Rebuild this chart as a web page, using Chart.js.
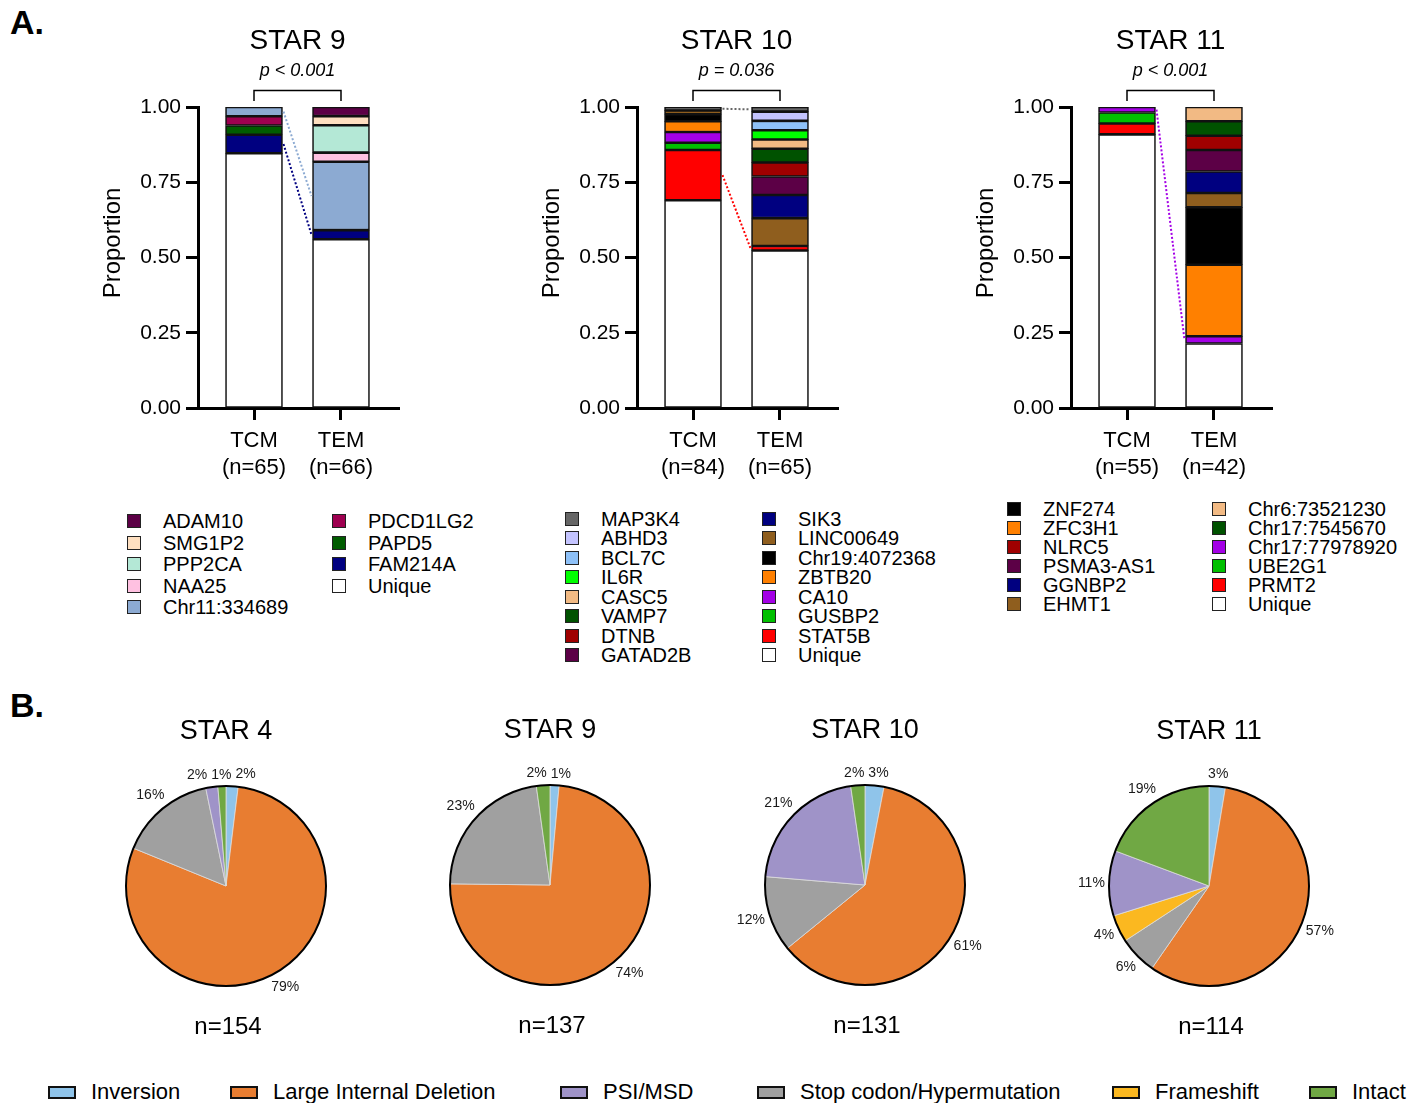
<!DOCTYPE html>
<html>
<head>
<meta charset="utf-8">
<title>Clonal proportions and provirus types</title>
<script src="https://cdn.jsdelivr.net/npm/chart.js@4.4.1/dist/chart.umd.min.js"></script>
<style>
  html, body { margin: 0; padding: 0; background: #fff; }
  body { width: 1425px; height: 1103px; position: relative; overflow: hidden;
         font-family: "Liberation Sans", Arial, Helvetica, sans-serif; color: #000; }
  canvas { position: absolute; }
  .panel { position: absolute; font-weight: bold; font-size: 34px; line-height: 34px; }
  .leg-item { position: absolute; height: 20px; font-size: 20px; line-height: 20px; white-space: nowrap; }
  .leg-item .sw { position: absolute; top: 3px; width: 14px; height: 14px; box-sizing: border-box; border: 1.5px solid #222; }
  .leg-item .tx { position: absolute; top: 0; }
  .mut-item { position: absolute; top: 1080px; height: 24px; font-size: 22px; line-height: 24px; white-space: nowrap; }
  .mut-item .sw { position: absolute; left: 0; top: 6px; width: 28px; height: 13px; box-sizing: border-box; border: 2.5px solid #111; }
  .mut-item .tx { position: absolute; left: 43px; top: 0; }
</style>
</head>
<body>
<div class="panel" style="left:10px; top:5px;">A.</div>
<div class="panel" style="left:10px; top:688px;">B.</div>

<script>
// ---------- Panel A: clone proportions in TCM vs TEM ----------
const groups = ['TCM', 'TEM'];

// STAR 9
const star9Clones = ['ADAM10', 'SMG1P2', 'PPP2CA', 'NAA25', 'Chr11:334689',
                     'PDCD1LG2', 'PAPD5', 'FAM214A', 'Unique'];
const star9Colors = ['#5c0046', '#fedfc0', '#b4e8d6', '#ffc1e1', '#8caad2',
                     '#9e0050', '#005c00', '#000080', '#ffffff'];
const star9TCM = [0, 0, 0, 0, 2, 2, 2, 4, 55];
const star9TEM = [2, 2, 6, 2, 15, 0, 0, 2, 37];
const star9N = [65, 66];
const star9Stack = star9Clones.slice().reverse();
const star9Links = ['FAM214A', 'Chr11:334689'];

// STAR 10
const star10Clones = ['MAP3K4', 'ABHD3', 'BCL7C', 'IL6R', 'CASC5', 'VAMP7', 'DTNB', 'GATAD2B',
                      'SIK3', 'LINC00649', 'Chr19:4072368', 'ZBTB20', 'CA10', 'GUSBP2', 'STAT5B', 'Unique'];
const star10Colors = ['#666666', '#c4c4ff', '#8ec1f8', '#00ff00', '#f2ba84', '#005200', '#a00000', '#5c0046',
                      '#000080', '#8f5e1e', '#000000', '#ff8000', '#a400e6', '#00c000', '#ff0000', '#ffffff'];
const star10TCM = [1, 0, 0, 0, 0, 0, 0, 0, 0, 1, 2, 3, 3, 2, 14, 58];
const star10TEM = [1, 2, 2, 2, 2, 3, 3, 4, 5, 6, 0, 0, 0, 0, 1, 34];
const star10N = [84, 65];
const star10Stack = star10Clones.slice().reverse();
const star10Links = ['MAP3K4', 'STAT5B'];

// STAR 11
const star11Clones = ['ZNF274', 'ZFC3H1', 'NLRC5', 'PSMA3-AS1', 'GGNBP2', 'EHMT1',
                      'Chr6:73521230', 'Chr17:7545670', 'Chr17:77978920', 'UBE2G1', 'PRMT2', 'Unique'];
const star11Colors = ['#000000', '#ff8000', '#a00000', '#5c0046', '#000080', '#8f5e1e',
                      '#f2ba84', '#005200', '#a400e6', '#00c000', '#ff0000', '#ffffff'];
const star11TCM = [0, 0, 0, 0, 0, 0, 0, 0, 1, 2, 2, 50];
const star11TEM = [8, 10, 2, 3, 3, 2, 2, 2, 1, 0, 0, 9];
const star11N = [55, 42];
const star11Stack = ['Unique', 'PRMT2', 'UBE2G1', 'Chr17:77978920', 'ZFC3H1', 'ZNF274',
                     'EHMT1', 'GGNBP2', 'PSMA3-AS1', 'NLRC5', 'Chr17:7545670', 'Chr6:73521230'];
const star11Links = ['Chr17:77978920'];

// ---------- Panel B: provirus classification ----------
const mutationTypes = ['Inversion', 'Large Internal Deletion', 'Stop codon/Hypermutation',
                       'Frameshift', 'PSI/MSD', 'Intact'];
const mutationColors = ['#8fc4ea', '#e87d31', '#a0a0a0', '#fbb820', '#9f93c8', '#70a844'];
const legendTypes = ['Inversion', 'Large Internal Deletion', 'PSI/MSD',
                     'Stop codon/Hypermutation', 'Frameshift', 'Intact'];
const star4Counts = [3, 122, 24, 0, 3, 2];
const star9Counts = [2, 101, 31, 0, 0, 3];
const star10Counts = [4, 80, 16, 0, 28, 3];
const star11Counts = [3, 65, 7, 5, 12, 22];

// ---------- drawing ----------
const FONT = '"Liberation Sans", Arial, Helvetica, sans-serif';
Chart.defaults.font.family = FONT;
Chart.defaults.color = '#000';

function addCanvas(left, top, w, h) {
  const c = document.createElement('canvas');
  c.width = w; c.height = h;
  c.style.left = left + 'px'; c.style.top = top + 'px';
  c.style.width = w + 'px'; c.style.height = h + 'px';
  document.body.appendChild(c);
  return c;
}

function clonalChart(cfg) {
  const canvas = addCanvas(cfg.axisX - 100, 0, 310, 490);
  const datasets = cfg.stack.map(name => {
    const i = cfg.clones.indexOf(name);
    return {
      label: name,
      data: [{ x: 1, y: cfg.tcm[i] / cfg.n[0] }, { x: 2, y: cfg.tem[i] / cfg.n[1] }],
      backgroundColor: cfg.colors[i],
      borderColor: '#111',
      borderWidth: 1.6,
      borderSkipped: false,
      barThickness: 57
    };
  });
  const tickLabels = groups.map((g, i) => [g, '(n=' + cfg.n[i] + ')']);

  const decor = {
    id: 'clonalDecor',
    afterDatasetsDraw(chart) {
      const ctx = chart.ctx;
      ctx.save();
      ctx.setLineDash([2, 2]);
      ctx.lineWidth = 2;
      cfg.links.forEach(name => {
        const di = chart.data.datasets.findIndex(d => d.label === name);
        const meta = chart.getDatasetMeta(di);
        const a = meta.data[0], b = meta.data[1];
        ctx.strokeStyle = chart.data.datasets[di].backgroundColor;
        ctx.beginPath();
        ctx.moveTo(a.x + a.width / 2 + 1, (a.y + a.base) / 2);
        ctx.lineTo(b.x - b.width / 2 - 1, (b.y + b.base) / 2);
        ctx.stroke();
      });
      ctx.restore();
    },
    afterDraw(chart) {
      const ctx = chart.ctx;
      const xs = chart.scales.x;
      const xa = xs.getPixelForValue(1), xb = xs.getPixelForValue(2);
      const mid = (xa + xb) / 2;
      ctx.save();
      ctx.fillStyle = '#000';
      ctx.textAlign = 'center';
      ctx.textBaseline = 'middle';
      ctx.font = '28px ' + FONT;
      ctx.fillText(cfg.title, mid, 41);
      ctx.font = 'italic 18px ' + FONT;
      ctx.fillText(cfg.pText, mid, 71);
      ctx.strokeStyle = '#000';
      ctx.lineWidth = 1.5;
      ctx.beginPath();
      ctx.moveTo(xa, 101); ctx.lineTo(xa, 90.5); ctx.lineTo(xb, 90.5); ctx.lineTo(xb, 101);
      ctx.stroke();
      ctx.translate(chart.chartArea.left - 85, 243);
      ctx.rotate(-Math.PI / 2);
      ctx.font = '24px ' + FONT;
      ctx.fillText('Proportion', 0, 0);
      ctx.restore();
    }
  };

  new Chart(canvas, {
    type: 'bar',
    data: { datasets },
    options: {
      responsive: false,
      animation: false,
      events: [],
      layout: { padding: { top: 107, left: 0, right: 9, bottom: 0 } },
      plugins: { legend: { display: false }, tooltip: { enabled: false } },
      scales: {
        x: {
          type: 'linear', stacked: true, bounds: 'data', offset: false,
          min: 0.3563, max: 2.6667,
          afterBuildTicks: s => { s.ticks = [{ value: 1 }, { value: 2 }]; },
          afterFit: s => { s.height = 82; },
          ticks: {
            callback: v => tickLabels[v - 1],
            font: { size: 22 }, color: '#000', padding: 8,
            maxRotation: 0, autoSkip: false
          },
          grid: { display: true, offset: false, drawOnChartArea: false, drawTicks: true,
                  tickLength: 12, tickWidth: 3, tickColor: '#000' },
          border: { display: true, width: 3, color: '#000' }
        },
        y: {
          stacked: true, min: 0, max: 1,
          afterFit: s => { s.width = 100; },
          ticks: { stepSize: 0.25, callback: v => v.toFixed(2), font: { size: 21 },
                   color: '#000', padding: 5 },
          grid: { display: true, drawOnChartArea: false, drawTicks: true,
                  tickLength: 12, tickWidth: 3, tickColor: '#000' },
          border: { display: true, width: 3, color: '#000' }
        }
      }
    },
    plugins: [decor]
  });

  // two-column legend under the chart
  const half = Math.ceil(cfg.clones.length / 2);
  cfg.clones.forEach((name, i) => {
    const col = i < half ? 0 : 1;
    const row = col === 0 ? i : i - half;
    const item = document.createElement('div');
    item.className = 'leg-item';
    item.style.left = cfg.legend.cols[col] + 'px';
    item.style.top = (cfg.legend.firstRow + row * cfg.legend.step - 10) + 'px';
    const sw = document.createElement('span');
    sw.className = 'sw';
    sw.style.left = '0px';
    sw.style.background = cfg.colors[i];
    const tx = document.createElement('span');
    tx.className = 'tx';
    tx.style.left = '36px';
    tx.textContent = name;
    item.appendChild(sw); item.appendChild(tx);
    document.body.appendChild(item);
  });
}

clonalChart({ title: 'STAR 9', pText: 'p < 0.001', axisX: 198,
  clones: star9Clones, colors: star9Colors, tcm: star9TCM, tem: star9TEM, n: star9N,
  stack: star9Stack, links: star9Links,
  legend: { cols: [127, 332], firstRow: 521, step: 21.6 } });

clonalChart({ title: 'STAR 10', pText: 'p = 0.036', axisX: 637,
  clones: star10Clones, colors: star10Colors, tcm: star10TCM, tem: star10TEM, n: star10N,
  stack: star10Stack, links: star10Links,
  legend: { cols: [565, 762], firstRow: 518.5, step: 19.5 } });

clonalChart({ title: 'STAR 11', pText: 'p < 0.001', axisX: 1071,
  clones: star11Clones, colors: star11Colors, tcm: star11TCM, tem: star11TEM, n: star11N,
  stack: star11Stack, links: star11Links,
  legend: { cols: [1007, 1212], firstRow: 509, step: 19 } });

// ---------- pies ----------
function provirusPie(cfg) {
  const canvas = addCanvas(cfg.cx - 160, cfg.cy - 180, 320, 360);
  const total = cfg.counts.reduce((s, v) => s + v, 0);

  const decor = {
    id: 'pieDecor',
    afterDatasetsDraw(chart) {
      const ctx = chart.ctx;
      const arcs = chart.getDatasetMeta(0).data;
      const cx = arcs[0].x, cy = arcs[0].y, r = arcs[0].outerRadius;
      ctx.save();
      ctx.lineWidth = 2;
      ctx.strokeStyle = '#000';
      ctx.beginPath();
      ctx.arc(cx, cy, r, 0, Math.PI * 2);
      ctx.stroke();

      ctx.font = '14px ' + FONT;
      ctx.textAlign = 'center';
      ctx.textBaseline = 'middle';
      const labels = [];
      arcs.forEach((arc, i) => {
        const v = cfg.counts[i];
        if (!v) return;
        const text = Math.round(v / total * 100) + '%';
        const w = ctx.measureText(text).width, h = 14;
        const a = (arc.startAngle + arc.endAngle) / 2;
        const c = Math.cos(a), s = Math.sin(a);
        const R = r + 4 + Math.abs(c) * w / 2 + Math.abs(s) * h / 2;
        labels.push({ text, x: cx + R * c, y: cy + R * s, w, h });
      });
      // push apart labels that would collide
      for (let it = 0; it < 40; it++) {
        for (let i = 0; i < labels.length; i++) {
          for (let j = i + 1; j < labels.length; j++) {
            const p = labels[i], q = labels[j];
            const need = (p.w + q.w) / 2 + 4;
            const dx = q.x - p.x;
            if (Math.abs(q.y - p.y) < (p.h + q.h) / 2 && Math.abs(dx) < need) {
              const shift = (need - Math.abs(dx)) / 2;
              const dir = dx >= 0 ? 1 : -1;
              p.x -= dir * shift; q.x += dir * shift;
            }
          }
        }
      }
      ctx.fillStyle = '#1a1a1a';
      labels.forEach(l => ctx.fillText(l.text, l.x, l.y));

      ctx.fillStyle = '#000';
      ctx.font = '27px ' + FONT;
      ctx.fillText(cfg.title, cx, cy - 154);
      ctx.font = '24px ' + FONT;
      ctx.fillText('n=' + total, cx + 2, cy + 141);
      ctx.restore();
    }
  };

  new Chart(canvas, {
    type: 'pie',
    data: {
      labels: mutationTypes,
      datasets: [{
        data: cfg.counts,
        backgroundColor: mutationColors,
        borderColor: '#dcdcdc',
        borderWidth: 0.8,
        radius: 100
      }]
    },
    options: {
      responsive: false,
      animation: false,
      events: [],
      layout: { padding: 0 },
      plugins: { legend: { display: false }, tooltip: { enabled: false } }
    },
    plugins: [decor]
  });
}

provirusPie({ title: 'STAR 4', counts: star4Counts, cx: 225.5, cy: 885.5 });
provirusPie({ title: 'STAR 9', counts: star9Counts, cx: 549.5, cy: 885 });
provirusPie({ title: 'STAR 10', counts: star10Counts, cx: 864.5, cy: 885 });
provirusPie({ title: 'STAR 11', counts: star11Counts, cx: 1208.5, cy: 885.5 });

// shared legend for the pies
const mutLegendX = [48, 230, 560, 757, 1112, 1309];
legendTypes.forEach((name, i) => {
  const item = document.createElement('div');
  item.className = 'mut-item';
  item.style.left = mutLegendX[i] + 'px';
  const sw = document.createElement('span');
  sw.className = 'sw';
  sw.style.background = mutationColors[mutationTypes.indexOf(name)];
  const tx = document.createElement('span');
  tx.className = 'tx';
  tx.textContent = name;
  item.appendChild(sw); item.appendChild(tx);
  document.body.appendChild(item);
});
</script>
</body>
</html>
